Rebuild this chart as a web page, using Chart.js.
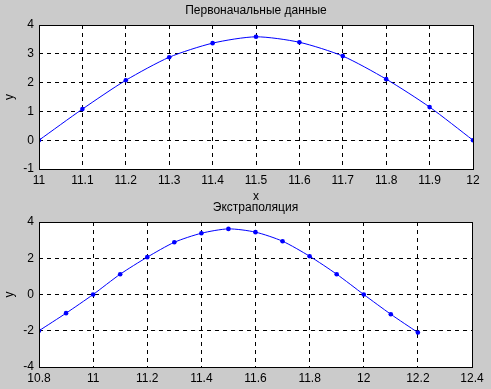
<!DOCTYPE html>
<html>
<head>
<meta charset="utf-8">
<script src="https://cdn.jsdelivr.net/npm/chart.js@4/dist/chart.umd.min.js"></script>
<style>
  html, body { margin: 0; padding: 0; background: #cbcbcb; }
  #wrap { position: relative; width: 491px; height: 389px; background: #cbcbcb; overflow: hidden; }
  #wrap canvas { position: absolute; left: 0; }
</style>
</head>
<body>
<div id="wrap">
  <canvas id="topChart" width="491" height="205" style="top:0"></canvas>
  <canvas id="botChart" width="491" height="193" style="top:196px"></canvas>
</div>
<script>
// --- Data ---
const topTitle = "Первоначальные данные";
const topX = [11, 11.1, 11.2, 11.3, 11.4, 11.5, 11.6, 11.7, 11.8, 11.9, 12];
const topY = [0, 1.08, 2.08, 2.88, 3.37, 3.59, 3.40, 2.92, 2.12, 1.15, 0];

const botTitle = "Экстраполяция";
const botX = [10.8, 10.9, 11, 11.1, 11.2, 11.3, 11.4, 11.5, 11.6, 11.7, 11.8, 11.9, 12, 12.1, 12.2];
const botY = [-2.0, -1.03, 0, 1.12, 2.06, 2.88, 3.38, 3.62, 3.44, 2.94, 2.11, 1.12, 0, -1.09, -2.1];

const FONT = "'Liberation Sans', Arial, sans-serif";

// --- White axes area, box + title (MATLAB-like) ---
const axesBox = {
  id: "axesBox",
  beforeDraw(chart) {
    const { ctx, chartArea: a } = chart;
    ctx.save();
    ctx.fillStyle = "#ffffff";
    ctx.fillRect(a.left, a.top, a.right - a.left, a.bottom - a.top);
    ctx.restore();
  },
  afterDraw(chart, args, opts) {
    const { ctx, chartArea: a } = chart;
    ctx.save();
    ctx.setLineDash([]);
    ctx.strokeStyle = "#000";
    ctx.lineWidth = 1;
    ctx.strokeRect(Math.round(a.left) + 0.5, Math.round(a.top) + 0.5,
      Math.round(a.right - a.left), Math.round(a.bottom - a.top));
    ctx.fillStyle = "#000";
    ctx.font = "12px " + FONT;
    ctx.textAlign = "center";
    ctx.textBaseline = "middle";
    ctx.fillText(opts.text, (a.left + a.right) / 2, opts.y);
    ctx.restore();
  }
};

function makeChart(id, xs, ys, o) {
  return new Chart(document.getElementById(id), {
    type: "scatter",
    data: {
      datasets: [{
        data: xs.map((x, i) => ({ x, y: ys[i] })),
        showLine: true,
        borderColor: "#0000ff",
        borderWidth: 1,
        backgroundColor: "#0000ff",
        pointRadius: 2.3,
        pointBorderWidth: 0,
        tension: 0.25
      }]
    },
    options: {
      responsive: false,
      animation: false,
      layout: { padding: { top: o.padTop, right: o.padRight, left: 0, bottom: 0 } },
      plugins: {
        legend: { display: false },
        tooltip: { enabled: false },
        axesBox: { text: o.title, y: o.titleY }
      },
      scales: {
        x: {
          type: "linear",
          min: o.xMin, max: o.xMax,
          afterFit: s => { s.height = o.xHeight; },
          afterBuildTicks: s => { s.ticks = o.xTicks.map(v => ({ value: v })); },
          ticks: {
            color: "#000", padding: 4, maxRotation: 0, autoSkip: false,
            font: { family: FONT, size: 12 },
            callback: v => String(+v.toFixed(1))
          },
          grid: { color: "#000", lineWidth: 1, drawTicks: false, tickLength: 0 },
          border: { display: false, dash: [4, 4] },
          title: o.xTitle ? { display: true, text: "x", color: "#000", font: { family: FONT, size: 12, lineHeight: 1 }, padding: { top: 0, bottom: o.xTitlePad } } : { display: false }
        },
        y: {
          min: o.yMin, max: o.yMax,
          afterFit: s => { s.width = 39; },
          afterBuildTicks: s => { s.ticks = o.yTicks.map(v => ({ value: v })); },
          ticks: {
            color: "#000", padding: 5,
            font: { family: FONT, size: 12 }
          },
          grid: { color: "#000", lineWidth: 1, drawTicks: false, tickLength: 0 },
          border: { display: false, dash: [4, 4] },
          title: { display: true, text: "y", color: "#000", font: { family: FONT, size: 12, lineHeight: 1 }, padding: { top: 4, bottom: 0 } }
        }
      }
    },
    plugins: [axesBox]
  });
}

makeChart("topChart", topX, topY, {
  title: topTitle, titleY: 11, padTop: 25, padRight: 18,
  xMin: 11, xMax: 12, xTicks: topX,
  yMin: -1, yMax: 4, yTicks: [-1, 0, 1, 2, 3, 4],
  xHeight: 36, xTitle: true, xTitlePad: 2
});

makeChart("botChart", botX, botY, {
  title: botTitle, titleY: 12, padTop: 26, padRight: 19,
  xMin: 10.8, xMax: 12.4, xTicks: [10.8, 11, 11.2, 11.4, 11.6, 11.8, 12, 12.2, 12.4],
  yMin: -4, yMax: 4, yTicks: [-4, -2, 0, 2, 4],
  xHeight: 22, xTitle: false
});
</script>
</body>
</html>
